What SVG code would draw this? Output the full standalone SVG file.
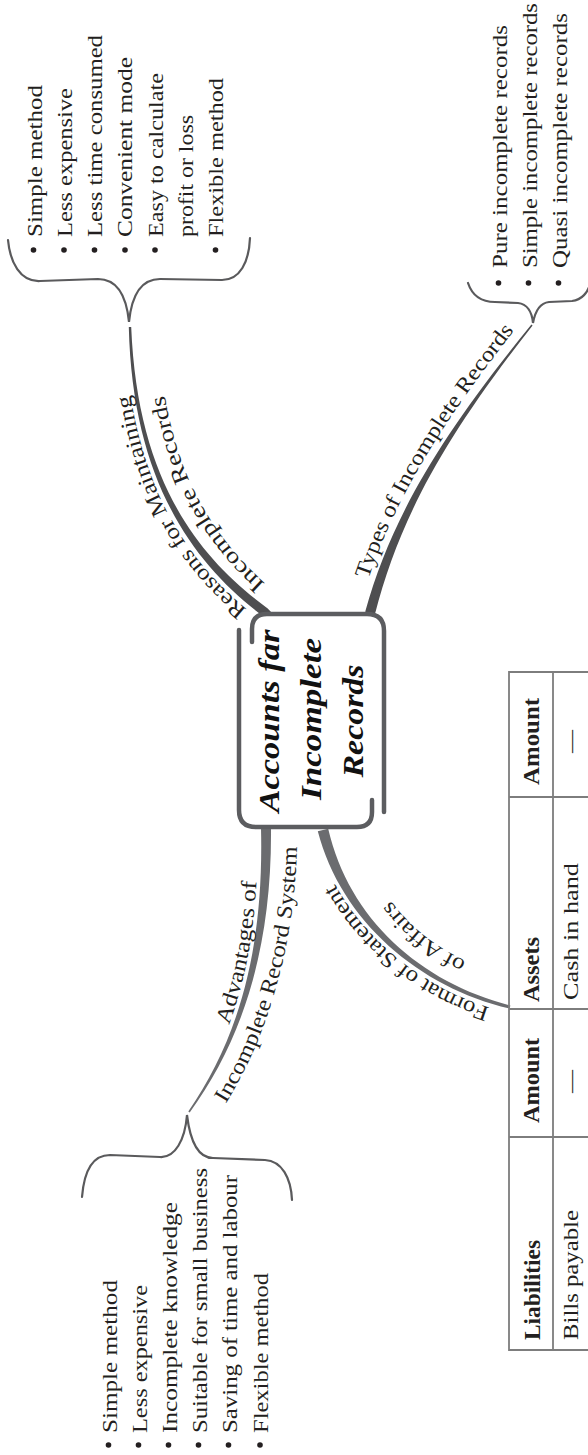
<svg xmlns="http://www.w3.org/2000/svg" xmlns:xlink="http://www.w3.org/1999/xlink" width="588" height="1455" viewBox="0 0 588 1455">
<style>
.t{font-family:"Liberation Serif","Times New Roman",serif;font-size:22px;fill:#231f20}
.h{font-family:"Liberation Serif","Times New Roman",serif;font-size:23px;font-weight:bold;fill:#231f20}
.c{font-family:"Liberation Serif","Times New Roman",serif;font-size:30px;font-weight:bold;font-style:italic;fill:#111}
.br{fill:none;stroke:#5a5a5c;stroke-width:2.2;stroke-linecap:round}
.dk{fill:#4e4e50}
.lt{fill:#6b6c6f}
.fr{fill:none;stroke:#5c5d60;stroke-width:4.5;stroke-linecap:round}
.tb{fill:none;stroke:#7d7d7d;stroke-width:1.8}
.dot{fill:#231f20}
</style>
<defs>
<path id="pR1" d="M 258 618 C 189 566, 128 482, 124 322"/>
<path id="pR2" d="M 282 598 C 214 542, 162 470, 158 322"/>
<path id="pT1" d="M 360 606 C 386 514, 432 434, 524 318"/>
<path id="pA1" d="M 185 1109 C 235 1036, 260 950, 257 828"/>
<path id="pA2" d="M 210 1127 C 262 1056, 298 950, 297 828"/>
<path id="pF1" d="M 509 1013 C 418 992, 337 922, 314 832"/>
<path id="pF2" d="M 518 980 C 428 955, 376 908, 356 820"/>
</defs>

<g id="connectors">
  <path class="dk" d="M 262.3 615.6 C 192.6 563.2, 132.5 480, 128.8 327 L 131.2 327 C 137.5 480, 197.4 556.8, 267.7 608.4 L 272 613 Z"/>
  <path class="dk" d="M 365.2 611.7 C 391.1 519, 438.4 438.7, 531.4 324.5 L 532.6 325.5 C 441.6 441.3, 398.9 521, 374.9 614.3 Z"/>
  <path class="lt" d="M 261 828 C 264 950, 238.4 1038.8, 188.3 1111.5 L 189.7 1112.5 C 241.6 1041.2, 272 950, 271 828 Z"/>
  <path class="lt" d="M 317.8 831.2 C 341.1 921, 419.4 987.4, 509.6 1008.5 L 510.4 1005.5 C 420.6 982.6, 348.9 919, 328.2 828.8 Z"/>
  <path class="br" d="M 8 240 C 10 262, 20 282, 40 281 L 98 279 C 115 279, 126 292, 129 322 C 132 292, 143 279, 160 279 L 222 280 C 240 280, 249 262, 250 238"/>
  <path class="br" d="M 468 283 C 472 295, 480 302, 495 302 L 518 303 C 527 304, 532 312, 533 323 C 535 312, 540 303, 549 302 L 572 301 C 582 300, 588 292, 590 284"/>
  <path class="br" d="M 82 1197 C 84 1172, 92 1155, 110 1155 L 160 1157 C 175 1158, 185 1140, 187 1115 C 190 1140, 198 1158, 213 1158 L 265 1160 C 282 1161, 291 1178, 292 1200"/>
  <text class="t"><textPath xlink:href="#pR1" startOffset="14" textLength="250" lengthAdjust="spacingAndGlyphs">Reasons for Maintaining</textPath></text>
  <text class="t"><textPath xlink:href="#pR2" startOffset="22" textLength="218" lengthAdjust="spacingAndGlyphs">Incomplete Records</textPath></text>
  <text class="t"><textPath xlink:href="#pT1" startOffset="28" textLength="290" lengthAdjust="spacingAndGlyphs">Types of Incomplete Records</textPath></text>
  <text class="t"><textPath xlink:href="#pA1" startOffset="95" textLength="147" lengthAdjust="spacingAndGlyphs">Advantages of</textPath></text>
  <text class="t"><textPath xlink:href="#pA2" startOffset="28" textLength="270" lengthAdjust="spacingAndGlyphs">Incomplete Record System</textPath></text>
  <text class="t"><textPath xlink:href="#pF1" startOffset="20" textLength="203" lengthAdjust="spacingAndGlyphs">Format of Statement</textPath></text>
  <text class="t"><textPath xlink:href="#pF2" startOffset="55" textLength="98" lengthAdjust="spacingAndGlyphs">of Affairs</textPath></text>
</g>

<g id="center">
  <rect x="246" y="615" width="132" height="211" fill="#fff"/>
  <path class="fr" d="M 252 642 L 252 629 Q 252 614 267 614 L 367 614 Q 384 614 384 631 L 384 812"/>
  <path class="fr" d="M 239 630 L 239 810 Q 239 827 256 827 L 357 827 Q 372 827 372 812 L 372 800"/>
  <text class="c" transform="translate(279,721) rotate(-90)" text-anchor="middle" textLength="183" lengthAdjust="spacingAndGlyphs">Accounts far</text>
  <text class="c" transform="translate(321,719) rotate(-90)" text-anchor="middle" textLength="162" lengthAdjust="spacingAndGlyphs">Incomplete</text>
  <text class="c" transform="translate(363,721) rotate(-90)" text-anchor="middle" textLength="113" lengthAdjust="spacingAndGlyphs">Records</text>
</g>

<g id="reasons">
  <circle class="dot" cx="33.5" cy="250" r="2.8"/>
  <circle class="dot" cx="64" cy="250" r="2.8"/>
  <circle class="dot" cx="94.5" cy="250" r="2.8"/>
  <circle class="dot" cx="125" cy="250" r="2.8"/>
  <circle class="dot" cx="155" cy="250" r="2.8"/>
  <circle class="dot" cx="215.5" cy="250" r="2.8"/>
  <text class="t" transform="translate(41.5,237) rotate(-90)" textLength="152" lengthAdjust="spacingAndGlyphs">Simple method</text>
  <text class="t" transform="translate(71.8,237) rotate(-90)" textLength="149" lengthAdjust="spacingAndGlyphs">Less expensive</text>
  <text class="t" transform="translate(102.1,237) rotate(-90)" textLength="202" lengthAdjust="spacingAndGlyphs">Less time consumed</text>
  <text class="t" transform="translate(132.4,237) rotate(-90)" textLength="180" lengthAdjust="spacingAndGlyphs">Convenient mode</text>
  <text class="t" transform="translate(162.7,237) rotate(-90)" textLength="164" lengthAdjust="spacingAndGlyphs">Easy to calculate</text>
  <text class="t" transform="translate(193,237) rotate(-90)" textLength="122" lengthAdjust="spacingAndGlyphs">profit or loss</text>
  <text class="t" transform="translate(223.3,237) rotate(-90)" textLength="159" lengthAdjust="spacingAndGlyphs">Flexible method</text>
</g>

<g id="types">
  <circle class="dot" cx="498.5" cy="283" r="2.8"/>
  <circle class="dot" cx="528.5" cy="283" r="2.8"/>
  <circle class="dot" cx="558.5" cy="283" r="2.8"/>
  <text class="t" transform="translate(506.5,268) rotate(-90)" textLength="243" lengthAdjust="spacingAndGlyphs">Pure incomplete records</text>
  <text class="t" transform="translate(536.5,268) rotate(-90)" textLength="265" lengthAdjust="spacingAndGlyphs">Simple incomplete records</text>
  <text class="t" transform="translate(566.5,268) rotate(-90)" textLength="255" lengthAdjust="spacingAndGlyphs">Quasi incomplete records</text>
</g>

<g id="advantages">
  <circle class="dot" cx="108.5" cy="1445" r="2.8"/>
  <circle class="dot" cx="138.5" cy="1445" r="2.8"/>
  <circle class="dot" cx="168.5" cy="1445" r="2.8"/>
  <circle class="dot" cx="198.5" cy="1445" r="2.8"/>
  <circle class="dot" cx="228.5" cy="1445" r="2.8"/>
  <circle class="dot" cx="260" cy="1445" r="2.8"/>
  <text class="t" transform="translate(116.5,1433) rotate(-90)" textLength="153" lengthAdjust="spacingAndGlyphs">Simple method</text>
  <text class="t" transform="translate(146.5,1433) rotate(-90)" textLength="148" lengthAdjust="spacingAndGlyphs">Less expensive</text>
  <text class="t" transform="translate(176.5,1433) rotate(-90)" textLength="231" lengthAdjust="spacingAndGlyphs">Incomplete knowledge</text>
  <text class="t" transform="translate(206.5,1433) rotate(-90)" textLength="265" lengthAdjust="spacingAndGlyphs">Suitable for small business</text>
  <text class="t" transform="translate(236.5,1433) rotate(-90)" textLength="258" lengthAdjust="spacingAndGlyphs">Saving of time and labour</text>
  <text class="t" transform="translate(267.5,1433) rotate(-90)" textLength="160" lengthAdjust="spacingAndGlyphs">Flexible method</text>
</g>

<g id="statement-table">
  <path class="tb" d="M 590 672 L 509 672 L 509 1350 L 590 1350 M 553 672 L 553 1350 M 509 797 L 590 797 M 509 1009 L 590 1009 M 509 1137 L 590 1137"/>
  <text class="h" transform="translate(538.5,785) rotate(-90)" textLength="87" lengthAdjust="spacingAndGlyphs">Amount</text>
  <text class="h" transform="translate(538.5,1002) rotate(-90)" textLength="65" lengthAdjust="spacingAndGlyphs">Assets</text>
  <text class="h" transform="translate(538.5,1123) rotate(-90)" textLength="85" lengthAdjust="spacingAndGlyphs">Amount</text>
  <text class="h" transform="translate(539.5,1340) rotate(-90)" textLength="100" lengthAdjust="spacingAndGlyphs">Liabilities</text>
  <text class="t" transform="translate(577.5,753) rotate(-90)" textLength="23" lengthAdjust="spacingAndGlyphs">—</text>
  <text class="t" transform="translate(577.5,1000) rotate(-90)" textLength="137" lengthAdjust="spacingAndGlyphs">Cash in hand</text>
  <text class="t" transform="translate(577.5,1093) rotate(-90)" textLength="23" lengthAdjust="spacingAndGlyphs">—</text>
  <text class="t" transform="translate(577.5,1340) rotate(-90)" textLength="130" lengthAdjust="spacingAndGlyphs">Bills payable</text>
</g>
</svg>
